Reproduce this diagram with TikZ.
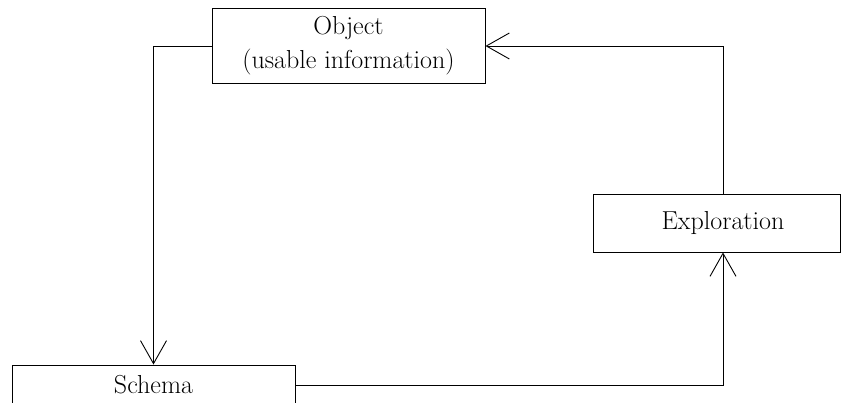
\documentclass[tikz,border=0pt]{standalone}
\usetikzlibrary{arrows.meta}
\begin{document}
\begin{tikzpicture}[x=1pt,y=-1pt,
  box/.style={draw=black,line width=0.9pt,fill=white,inner sep=0pt,align=center,
    font=\fontsize{26}{34}\selectfont},
  conn/.style={draw=black,line width=0.9pt,-{Straight Barb[length=23pt,width=26pt,line width=0.9pt]}}]
\clip (0,0) rectangle (843,403);
\fill[white] (0,0) rectangle (843,403);
\node[box,minimum width=273pt,minimum height=75pt] (obj) at (348.5,46) {Object\\(usable information)};
\node[box,minimum width=283pt,minimum height=40pt] (schema) at (153.5,385) {Schema};
\node[box,minimum width=247pt,minimum height=58pt] (explo) at (716.5,223) {\hspace*{13pt}Exploration};
\draw[conn] (obj.west) -| (schema.north);
\draw[conn] (schema.east) -| ([xshift=6.5pt]explo.south);
\draw[conn] ([xshift=6.5pt]explo.north) |- (obj.east);
\end{tikzpicture}
\end{document}
